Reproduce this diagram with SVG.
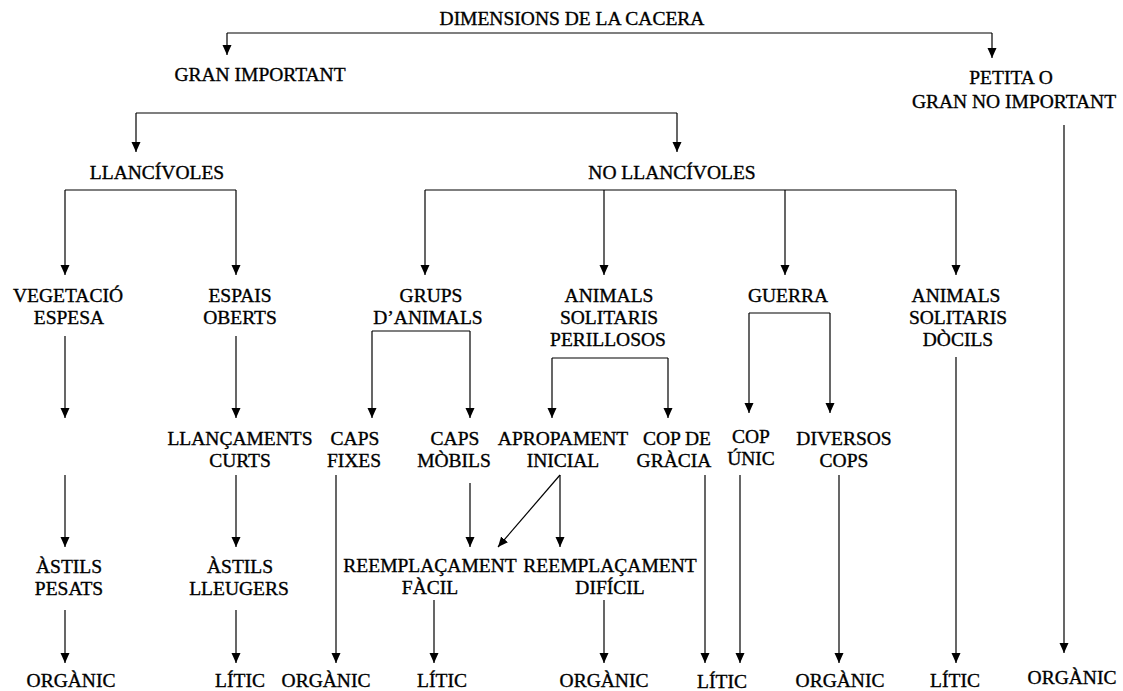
<svg xmlns="http://www.w3.org/2000/svg" width="1123" height="691" viewBox="0 0 1123 691">
<style>
text{font-family:"Liberation Serif","Times New Roman",serif;font-size:19.5px;fill:#000;stroke:#000;stroke-width:0.35;text-anchor:middle}
.c path{fill:none;stroke:#000;stroke-width:1.2}
</style>
<defs>
<marker id="ah" markerUnits="userSpaceOnUse" markerWidth="10" markerHeight="10" viewBox="0 0 10 10" refX="10" refY="5" orient="auto">
<path d="M0,0.5 L10,5 L0,9.5 z" fill="#000"/>
</marker>
</defs>
<rect width="1123" height="691" fill="#fff"/>
<g class="c" id="connectors">
<path d="M227,33 H992"/>
<path d="M227,33 V55" marker-end="url(#ah)"/>
<path d="M992,33 V58" marker-end="url(#ah)"/>
<path d="M136,113 H677"/>
<path d="M136,113 V152" marker-end="url(#ah)"/>
<path d="M677,113 V152" marker-end="url(#ah)"/>
<path d="M65,190 H236"/>
<path d="M65,190 V275" marker-end="url(#ah)"/>
<path d="M236,190 V275" marker-end="url(#ah)"/>
<path d="M425,190 H956"/>
<path d="M425,190 V275" marker-end="url(#ah)"/>
<path d="M604,190 V275" marker-end="url(#ah)"/>
<path d="M785,190 V275" marker-end="url(#ah)"/>
<path d="M956,190 V275" marker-end="url(#ah)"/>
<path d="M65,336 V418" marker-end="url(#ah)"/>
<path d="M65,475 V547" marker-end="url(#ah)"/>
<path d="M65,610 V663" marker-end="url(#ah)"/>
<path d="M236,336 V418" marker-end="url(#ah)"/>
<path d="M236,475 V547" marker-end="url(#ah)"/>
<path d="M236,610 V663" marker-end="url(#ah)"/>
<path d="M372,331 H470"/>
<path d="M372,331 V418" marker-end="url(#ah)"/>
<path d="M470,331 V418" marker-end="url(#ah)"/>
<path d="M552,358 H668"/>
<path d="M552,358 V418" marker-end="url(#ah)"/>
<path d="M668,358 V418" marker-end="url(#ah)"/>
<path d="M749,313 H830"/>
<path d="M749,313 V413" marker-end="url(#ah)"/>
<path d="M830,313 V413" marker-end="url(#ah)"/>
<path d="M956,357 V663" marker-end="url(#ah)"/>
<path d="M1064,125 V653" marker-end="url(#ah)"/>
<path d="M336,475 V663" marker-end="url(#ah)"/>
<path d="M470,483 V547" marker-end="url(#ah)"/>
<path d="M560,475 L498,547" marker-end="url(#ah)"/>
<path d="M560,475 V547" marker-end="url(#ah)"/>
<path d="M705,475 V663" marker-end="url(#ah)"/>
<path d="M740,475 V663" marker-end="url(#ah)"/>
<path d="M839,475 V663" marker-end="url(#ah)"/>
<path d="M434,600 V663" marker-end="url(#ah)"/>
<path d="M604,600 V663" marker-end="url(#ah)"/>
</g>
<g id="n-dimensions"><text x="572" y="25">DIMENSIONS DE LA CACERA</text></g>
<g id="n-gran"><text x="260" y="81">GRAN IMPORTANT</text></g>
<g id="n-petita"><text x="1011" y="84">PETITA O</text><text x="1014" y="108">GRAN NO IMPORTANT</text></g>
<g id="n-llancivoles"><text x="157" y="179">LLANCÍVOLES</text></g>
<g id="n-nollancivoles"><text x="672" y="179">NO LLANCÍVOLES</text></g>
<g id="n-vegetacio"><text x="68" y="302">VEGETACIÓ</text><text x="69" y="324">ESPESA</text></g>
<g id="n-espais"><text x="240" y="302">ESPAIS</text><text x="240" y="324">OBERTS</text></g>
<g id="n-grups"><text x="431" y="302">GRUPS</text><text x="428" y="324">D’ANIMALS</text></g>
<g id="n-perillosos"><text x="609" y="302">ANIMALS</text><text x="609" y="324">SOLITARIS</text><text x="608" y="346">PERILLOSOS</text></g>
<g id="n-guerra"><text x="788" y="302">GUERRA</text></g>
<g id="n-docils"><text x="956" y="302">ANIMALS</text><text x="958" y="324">SOLITARIS</text><text x="958" y="346">DÒCILS</text></g>
<g id="n-llancaments"><text x="240" y="445">LLANÇAMENTS</text><text x="240" y="467">CURTS</text></g>
<g id="n-capsfixes"><text x="355" y="445">CAPS</text><text x="354" y="467">FIXES</text></g>
<g id="n-capsmobils"><text x="455" y="445">CAPS</text><text x="454" y="467">MÒBILS</text></g>
<g id="n-apropament"><text x="563" y="445">APROPAMENT</text><text x="563" y="467">INICIAL</text></g>
<g id="n-copgracia"><text x="677" y="445">COP DE</text><text x="674" y="467">GRÀCIA</text></g>
<g id="n-copunic"><text x="751" y="443">COP</text><text x="751" y="465">ÚNIC</text></g>
<g id="n-diversos"><text x="844" y="445">DIVERSOS</text><text x="844" y="467">COPS</text></g>
<g id="n-pesats"><text x="69" y="573">ÀSTILS</text><text x="69" y="595">PESATS</text></g>
<g id="n-lleugers"><text x="240" y="573">ÀSTILS</text><text x="239" y="595">LLEUGERS</text></g>
<g id="n-facil"><text x="430" y="572">REEMPLAÇAMENT</text><text x="430" y="594">FÀCIL</text></g>
<g id="n-dificil"><text x="610" y="572">REEMPLAÇAMENT</text><text x="610" y="594">DIFÍCIL</text></g>
<g id="n-o1"><text x="71" y="687">ORGÀNIC</text></g>
<g id="n-l1"><text x="240" y="687">LÍTIC</text></g>
<g id="n-o2"><text x="326" y="687">ORGÀNIC</text></g>
<g id="n-l2"><text x="442" y="687">LÍTIC</text></g>
<g id="n-o3"><text x="604" y="687">ORGÀNIC</text></g>
<g id="n-l3"><text x="722" y="688">LÍTIC</text></g>
<g id="n-o4"><text x="840" y="687">ORGÀNIC</text></g>
<g id="n-l4"><text x="955" y="687">LÍTIC</text></g>
<g id="n-o5"><text x="1072" y="684">ORGÀNIC</text></g>
</svg>
